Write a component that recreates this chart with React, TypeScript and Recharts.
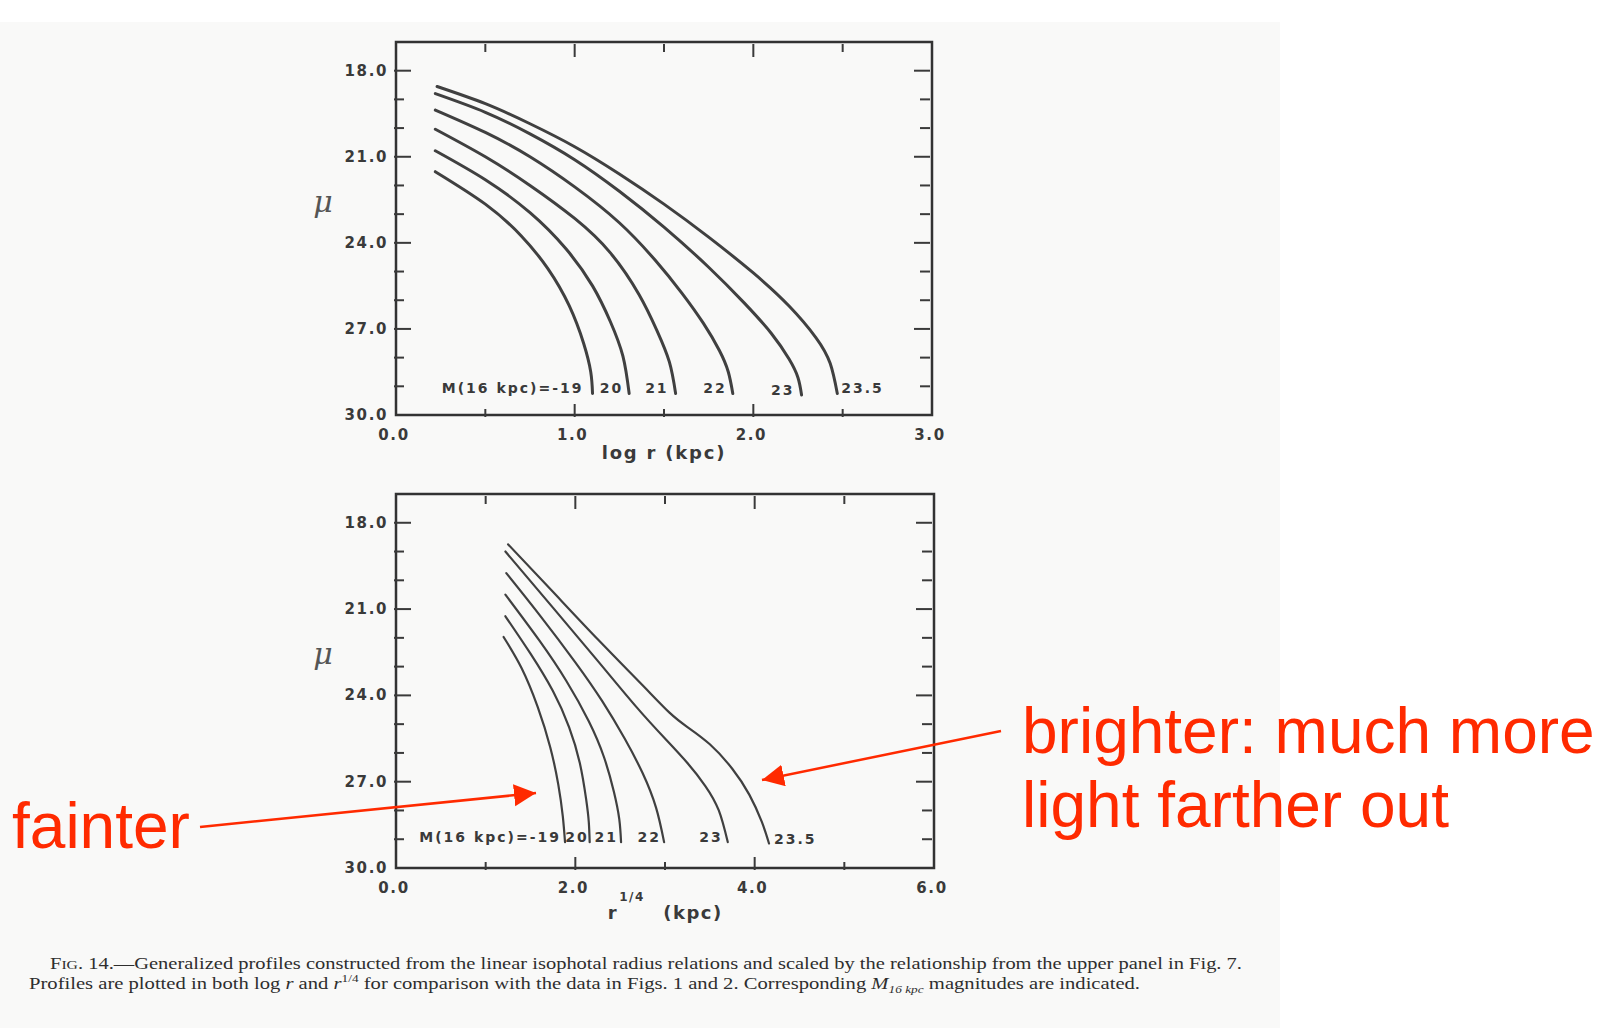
import React from 'react';
import { LineChart, Line, XAxis, YAxis, ReferenceArea } from 'recharts';

// Profile labels, faintest to brightest M(16 kpc)
const magLabels = ['M(16 kpc)=-19', '20', '21', '22', '23', '23.5'];

// Upper panel: mu against log r (kpc)
const logR19 = [0.22, 0.5, 0.7, 0.85, 0.97, 1.05, 1.09, 1.1];
const muLog19 = [21.52, 22.65, 23.75, 24.9, 26.2, 27.5, 28.5, 29.25];
const logR20 = [0.22, 0.5, 0.75, 0.95, 1.1, 1.2, 1.27, 1.305];
const muLog20 = [20.79, 21.8, 22.95, 24.2, 25.5, 26.75, 27.95, 29.25];
const logR21 = [0.22, 0.5, 0.75, 1.0, 1.2, 1.36, 1.46, 1.53, 1.565];
const muLog21 = [20.04, 21.0, 22.0, 23.15, 24.35, 25.8, 27.05, 28.15, 29.25];
const logR22 = [0.22, 0.5, 0.75, 1.0, 1.25, 1.45, 1.6, 1.72, 1.81, 1.86, 1.885];
const muLog22 = [19.37, 20.15, 21.0, 22.05, 23.3, 24.6, 25.75, 26.8, 27.75, 28.5, 29.25];
const logR23 = [0.22, 0.5, 0.75, 1.0, 1.25, 1.5, 1.75, 1.95, 2.1, 2.2, 2.25, 2.27];
const muLog23 = [18.8, 19.45, 20.2, 21.1, 22.2, 23.45, 24.85, 26.1, 27.15, 28.05, 28.7, 29.3];
const logR235 = [0.23, 0.5, 0.75, 1.0, 1.25, 1.5, 1.75, 2.0, 2.2, 2.35, 2.43, 2.47];
const muLog235 = [18.55, 19.15, 19.85, 20.65, 21.6, 22.65, 23.8, 25.05, 26.2, 27.3, 28.2, 29.25];

// Lower panel: mu against r^(1/4) (kpc)
const r4_19 = [1.2, 1.4, 1.58, 1.72, 1.81, 1.86, 1.885];
const muR4_19 = [21.97, 23.05, 24.4, 25.8, 27.1, 28.2, 29.1];
const r4_20 = [1.22, 1.5, 1.75, 1.93, 2.05, 2.12, 2.15, 2.16];
const muR4_20 = [21.25, 22.55, 23.85, 25.1, 26.35, 27.6, 28.4, 29.1];
const r4_21 = [1.22, 1.6, 1.9, 2.15, 2.32, 2.43, 2.49, 2.51];
const muR4_21 = [20.5, 22.1, 23.5, 24.9, 26.15, 27.35, 28.3, 29.1];
const r4_22 = [1.23, 1.6, 2.0, 2.3, 2.55, 2.75, 2.9, 2.99];
const muR4_22 = [19.75, 21.2, 22.85, 24.2, 25.5, 26.7, 27.9, 29.1];
const r4_23 = [1.22, 1.75, 2.25, 2.68, 3.0, 3.25, 3.45, 3.6, 3.7];
const muR4_23 = [19.0, 20.95, 22.8, 24.4, 25.5, 26.35, 27.15, 28.0, 29.1];
const r4_235 = [1.25, 1.75, 2.25, 2.75, 3.05, 3.25, 3.5, 3.75, 3.94, 4.08, 4.16];
const muR4_235 = [18.75, 20.4, 22.05, 23.65, 24.6, 25.1, 25.7, 26.55, 27.45, 28.4, 29.15];

const logRTicks = [0, 0.5, 1, 1.5, 2, 2.5, 3];
const r4Ticks = [0, 1, 2, 3, 4, 5, 6];
const muTicks = [18, 19, 20, 21, 22, 23, 24, 25, 26, 27, 28, 29, 30];

const INK = '#3a3a3a';
const TICK_FONT = "'DejaVu Sans', Verdana, sans-serif";

type Pt = { x: number; mu: number };
const toPoints = (xs: number[], mus: number[]): Pt[] => xs.map((x, i) => ({ x, mu: mus[i] }));

const upperSeries = [
  toPoints(logR19, muLog19),
  toPoints(logR20, muLog20),
  toPoints(logR21, muLog21),
  toPoints(logR22, muLog22),
  toPoints(logR23, muLog23),
  toPoints(logR235, muLog235),
];
const lowerSeries = [
  toPoints(r4_19, muR4_19),
  toPoints(r4_20, muR4_20),
  toPoints(r4_21, muR4_21),
  toPoints(r4_22, muR4_22),
  toPoints(r4_23, muR4_23),
  toPoints(r4_235, muR4_235),
];

// inward ticks on both vertical borders, labels every 3 mag
function MuTick(props: any) {
  const { x, y, payload, plotWidth } = props;
  const v = payload.value;
  const major = v % 3 === 0;
  return (
    <g>
      {v < 30 && (
        <>
          <line x1={x} x2={x + (major ? 17 : 10)} y1={y} y2={y} stroke={INK} strokeWidth={2} />
          <line x1={x + plotWidth} x2={x + plotWidth - (major ? 16 : 10)} y1={y} y2={y} stroke={INK} strokeWidth={2} />
        </>
      )}
      {major && (
        <text x={x - 6} y={y + 5} textAnchor="end" fontFamily={TICK_FONT} fontWeight="bold" fontSize={15} letterSpacing={1.6} fill={INK}>
          {v.toFixed(1)}
        </text>
      )}
    </g>
  );
}

// inward ticks on top and bottom borders
function XTick(props: any) {
  const { x, y, payload, plotHeight, step, last } = props;
  const v = payload.value;
  const labelled = Math.abs(v / step - Math.round(v / step)) < 1e-6;
  const len = labelled ? 13 : 8;
  const inside = v > 0 && v < last;
  return (
    <g>
      {inside && (
        <>
          <line x1={x} x2={x} y1={y} y2={y - len} stroke={INK} strokeWidth={2} />
          <line x1={x} x2={x} y1={y - plotHeight} y2={y - plotHeight + len} stroke={INK} strokeWidth={2} />
        </>
      )}
      {labelled && (
        <text x={x - 2} y={y + 23} textAnchor="middle" fontFamily={TICK_FONT} fontWeight="bold" fontSize={15} letterSpacing={1.6} fill={INK}>
          {v.toFixed(1)}
        </text>
      )}
    </g>
  );
}

// the magnitude label sits at the faint end of each profile
const endLabel = (text: string, last: number, dx: number, anchor: string) => (p: any) => {
  if (p.index !== last) return <g key={`d-${p.index}`} />;
  return (
    <text
      key={`l-${p.index}`}
      x={p.cx + dx}
      y={p.cy}
      textAnchor={anchor}
      fontFamily={TICK_FONT}
      fontWeight="bold"
      fontSize={14}
      letterSpacing={2}
      fill={INK}
    >
      {text}
    </text>
  );
};

const MuTitle = (props: any) => {
  const vb = props.viewBox;
  return (
    <text
      x={vb.x + vb.width - 73}
      y={vb.y + 170}
      textAnchor="middle"
      fontFamily="'DejaVu Serif', serif"
      fontStyle="italic"
      fontSize={30}
      fill="#555"
    >
      μ
    </text>
  );
};

type PanelProps = {
  left: number;
  top: number;
  margin: { top: number; right: number; bottom: number; left: number };
  plotWidth: number;
  plotHeight: number;
  series: Pt[][];
  xDomain: [number, number];
  xTicks: number[];
  labelStep: number;
  strokeWidth: number;
  labelDx: number[];
  xTitle: (props: any) => React.ReactElement;
};

function Panel(p: PanelProps) {
  return (
    <div style={{ position: 'absolute', left: p.left, top: p.top }}>
      <LineChart width={700} height={460} margin={p.margin}>
        <XAxis
          type="number"
          dataKey="x"
          domain={p.xDomain}
          ticks={p.xTicks}
          interval={0}
          height={30}
          tickSize={0}
          tickLine={false}
          axisLine={false}
          tick={(t: any) => <XTick {...t} plotHeight={p.plotHeight} step={p.labelStep} last={p.xDomain[1]} />}
          label={p.xTitle}
        />
        <YAxis
          type="number"
          dataKey="mu"
          domain={[17, 30]}
          reversed
          ticks={muTicks}
          interval={0}
          width={60}
          tickSize={0}
          tickLine={false}
          axisLine={false}
          tick={(t: any) => <MuTick {...t} plotWidth={p.plotWidth} />}
          label={MuTitle}
        />
        <ReferenceArea
          x1={p.xDomain[0]}
          x2={p.xDomain[1]}
          y1={17}
          y2={30}
          fill="none"
          fillOpacity={0}
          stroke="#333"
          strokeWidth={2.5}
          ifOverflow="visible"
        />
        {p.series.map((pts, i) => (
          <Line
            key={magLabels[i]}
            data={pts}
            dataKey="mu"
            type="natural"
            stroke="#404040"
            strokeWidth={p.strokeWidth}
            strokeLinecap="round"
            dot={endLabel(magLabels[i], pts.length - 1, p.labelDx[i], i === 5 ? 'start' : 'end')}
            activeDot={false}
            isAnimationActive={false}
          />
        ))}
      </LineChart>
    </div>
  );
}

const LogTitle = (props: any) => {
  const vb = props.viewBox;
  return (
    <text
      x={vb.x + vb.width / 2}
      y={vb.y + 44}
      textAnchor="middle"
      fontFamily={TICK_FONT}
      fontWeight="bold"
      fontSize={18}
      letterSpacing={1.8}
      fill={INK}
    >
      log r (kpc)
    </text>
  );
};

const R4Title = (props: any) => {
  const vb = props.viewBox;
  const cx = vb.x + vb.width / 2;
  return (
    <g fontFamily={TICK_FONT} fontWeight="bold" fill={INK} letterSpacing={1.5}>
      <text x={cx - 52} y={vb.y + 51} fontSize={18} textAnchor="middle">r</text>
      <text x={cx - 33} y={vb.y + 33} fontSize={12} textAnchor="middle">1/4</text>
      <text x={cx + 28} y={vb.y + 51} fontSize={18} textAnchor="middle">(kpc)</text>
    </g>
  );
};

const RED = '#ff2a00';

export default function App() {
  return (
    <div style={{ position: 'absolute', left: 0, top: 0, width: 1610, height: 1028, background: '#ffffff', overflow: 'hidden' }}>
      <div style={{ position: 'absolute', left: 0, top: 22, width: 1280, height: 1006, background: '#f9f9f8' }} />
      <Panel
        left={300}
        top={20}
        margin={{ top: 22, right: 68, bottom: 35, left: 36 }}
        plotWidth={536}
        plotHeight={373}
        series={upperSeries}
        xDomain={[0, 3]}
        xTicks={logRTicks}
        labelStep={1}
        strokeWidth={3}
        labelDx={[-9, -6, -7, -6, -7, 4]}
        xTitle={LogTitle}
      />
      <Panel
        left={300}
        top={470}
        margin={{ top: 24, right: 66, bottom: 32, left: 36 }}
        plotWidth={538}
        plotHeight={374}
        series={lowerSeries}
        xDomain={[0, 6]}
        xTicks={r4Ticks}
        labelStep={2}
        strokeWidth={2.2}
        labelDx={[-4, -1, -3, -3, -5, 5]}
        xTitle={R4Title}
      />
      <svg width={1610} height={1028} style={{ position: 'absolute', left: 0, top: 0, pointerEvents: 'none' }}>
        <defs>
          <marker id="head" markerUnits="userSpaceOnUse" markerWidth={24} markerHeight={24} refX={22} refY={11} orient="auto">
            <path d="M0,0 L22,11 L0,22 z" fill={RED} />
          </marker>
        </defs>
        <line x1={200} y1={827} x2={536} y2={793} stroke={RED} strokeWidth={2.5} markerEnd="url(#head)" />
        <line x1={1001} y1={731} x2={762} y2={780} stroke={RED} strokeWidth={2.5} markerEnd="url(#head)" />
        <g fontFamily="'Liberation Sans', Arial, sans-serif" fontSize={64} fill={RED}>
          <text x={12} y={848}>fainter</text>
          <text x={1022} y={753}>brighter: much more</text>
          <text x={1022} y={827}>light farther out</text>
        </g>
        <g fontFamily="'Liberation Serif', 'Times New Roman', serif" fontSize={17} fill="#2e2e2e">
          <text x={50} y={969} textLength={1192} lengthAdjust="spacingAndGlyphs">
            F<tspan fontSize={13}>IG</tspan>. 14.—Generalized profiles constructed from the linear isophotal radius relations and scaled by the relationship from the upper panel in Fig. 7.
          </text>
          <text x={29} y={989} textLength={1111} lengthAdjust="spacingAndGlyphs">
            Profiles are plotted in both log <tspan fontStyle="italic">r</tspan> and <tspan fontStyle="italic">r</tspan>
            <tspan fontSize={11} dy={-7}>1/4</tspan>
            <tspan dy={7}> for comparison with the data in Figs. 1 and 2. Corresponding </tspan>
            <tspan fontStyle="italic">M</tspan>
            <tspan fontSize={11} fontStyle="italic" dy={4}>16 kpc</tspan>
            <tspan dy={-4}> magnitudes are indicated.</tspan>
          </text>
        </g>
      </svg>
    </div>
  );
}
